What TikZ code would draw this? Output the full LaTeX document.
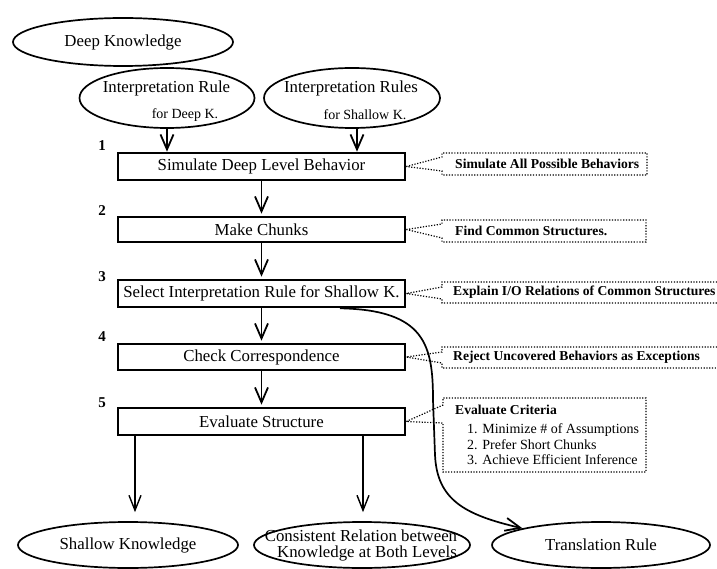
\documentclass[tikz,border=0pt]{standalone}
\usepackage{fontspec}
\setmainfont{Liberation Serif}
\usetikzlibrary{arrows.meta,shapes.geometric,calc}

\newcommand\mainfs{\fontsize{16.8}{15.5}\selectfont}
\newcommand\smallfs{\fontsize{14}{14}\selectfont}
\newcommand\notefs{\fontsize{13.6}{14}\selectfont}

\tikzset{
  stepbox/.style={draw,line width=2.6pt,minimum width=287pt,inner sep=0pt,font=\mainfs},
  oval/.style={draw,ellipse,line width=1.7pt,inner sep=0pt},
  flow/.style={-{Straight Barb[length=15pt,width=13pt,line width=1.8pt]},line width=1.8pt},
  thinflow/.style={-{Straight Barb[length=15pt,width=12pt,line width=1.4pt]},line width=1.3pt},
  callout/.style={line width=1.2pt,dash pattern=on 1.2pt off 1.6pt},
  num/.style={inner sep=0pt,font=\bfseries\fontsize{15}{15}\selectfont},
  note/.style={anchor=west,inner sep=0pt,font=\bfseries\notefs},
  item/.style={anchor=west,inner sep=0pt,font=\smallfs},
  txt/.style={inner sep=0pt,font=\mainfs},
}

\begin{document}
\begin{tikzpicture}[x=1pt,y=-1pt]
\useasboundingbox (0,0) rectangle (717,569);

% input knowledge
\node[oval,minimum width=220pt,minimum height=48pt,font=\mainfs] (dk) at (123,42) {Deep Knowledge};
\node[oval,minimum width=175pt,minimum height=60pt] (ird) at (167,98) {};
\node[txt] (irdA) at (166.5,88) {Interpretation Rule};
\node[inner sep=0pt,font=\smallfs] (irdB) at (185,115) {for Deep K.};
\node[oval,minimum width=176pt,minimum height=60pt] (irs) at (352,98) {};
\node[txt] (irsA) at (351,88) {Interpretation Rules};
\node[inner sep=0pt,font=\smallfs] (irsB) at (365,115) {for Shallow K.};

% the five steps
\node[stepbox,minimum height=27pt] (b1) at (261.5,166.5) {Simulate Deep Level Behavior};
\node[stepbox,minimum height=25pt] (b2) at (261.5,229.5) {Make Chunks};
\node[stepbox,minimum height=27pt] (b3) at (261.5,293.5) {Select Interpretation Rule for Shallow K.};
\node[stepbox,minimum height=26pt] (b4) at (261.5,357) {Check Correspondence};
\node[stepbox,minimum height=27pt] (b5) at (261.5,421.5) {Evaluate Structure};

\node[num] (n1) at (102,146) {1};
\node[num] (n2) at (102,211) {2};
\node[num] (n3) at (102,277) {3};
\node[num] (n4) at (102,337) {4};
\node[num] (n5) at (102,403) {5};

% results
\node[oval,minimum width=220pt,minimum height=46pt,font=\mainfs] (sk) at (128,545) {Shallow Knowledge};
\node[oval,minimum width=216pt,minimum height=46pt] (cr) at (362,545) {};
\node[txt] (crA) at (361,536) {Consistent Relation between};
\node[txt] (crB) at (367,553.5) {Knowledge at Both Levels};
\node[oval,minimum width=218pt,minimum height=46pt,font=\mainfs] (tr) at (601,545) {Translation Rule};

% flow arrows
\coordinate (rx) at (357,0);
\draw[flow] (ird.south) -- (ird.south |- b1.north);
\draw[flow] (irs.south -| rx) -- (rx |- b1.north);
\draw[flow,shorten >=2pt] (b1.south) -- (b2.north);
\draw[flow,shorten >=2pt] (b2.south) -- (b3.north);
\draw[flow,shorten >=2pt] (b3.south) -- (b4.north);
\draw[flow,shorten >=2pt] (b4.south) -- (b5.north);

\coordinate (lx) at (135,0);
\coordinate (mx) at (363,0);
\draw[thinflow,shorten >=9pt] (b5.south -| lx) -- (sk.north -| lx);
\draw[thinflow,shorten >=9pt] (b5.south -| mx) -- (cr.north -| mx);

\coordinate (c0) at ($(b3.south)+(78.5,0)$);
\draw[flow,line width=1.7pt] (c0) .. controls (425,310) and (433,345) .. (433,400)
  -- (435,455) .. controls (437,500) and (465,515) .. (tr.168);

% dotted annotations
\draw[callout] (b1.east) -- (442,157) -- (442,153) -- (647,153) -- (647,175) -- (442,175) -- (442,171) -- cycle;
\node[note] (a1) at (455,164) {Simulate All Possible Behaviors};

\draw[callout] (b2.east) -- (442,224) -- (442,220) -- (646,220) -- (646,242) -- (442,242) -- (442,238) -- cycle;
\node[note] (a2) at (455,231) {Find Common Structures.};

\draw[callout] (717,282) -- (442,282) -- (442,287) -- (b3.east) -- (442,299) -- (442,303) -- (717,303);
\node[note] (a3) at (453,292.5) {Explain I/O Relations of Common Structures};

\draw[callout] (717,347) -- (442,347) -- (442,352) -- (b4.east) -- (442,363) -- (442,368) -- (717,368);
\node[note] (a4) at (453,357.5) {Reject Uncovered Behaviors as Exceptions};

\draw[callout] (b5.east) -- (443,405) -- (443,398) -- (646,398) -- (646,472) -- (443,472) -- (443,423) -- cycle;
\node[note] (a5) at (455,410) {Evaluate Criteria};
\node[item] (a5i) at (467,430) {1. Minimize \# of Assumptions};
\node[item] (a5ii) at (467,445) {2. Prefer Short Chunks};
\node[item] (a5iii) at (467,460) {3. Achieve Efficient Inference};
\end{tikzpicture}
\end{document}
